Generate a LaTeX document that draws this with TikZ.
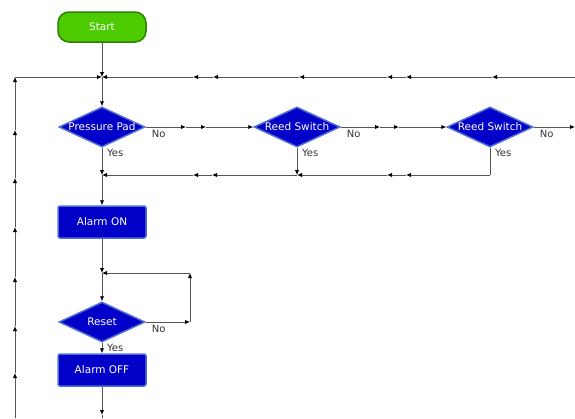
\documentclass[tikz,border=0pt]{standalone}
\usepackage{fontspec}
\setmainfont{DejaVu Sans}
\usetikzlibrary{arrows.meta,positioning,shapes.geometric}
\definecolor{boxfill}{RGB}{0,0,200}
\definecolor{boxedge}{RGB}{80,110,210}
\definecolor{startfill}{RGB}{76,204,0}
\definecolor{startedge}{RGB}{45,130,0}
\definecolor{wirecolor}{RGB}{85,85,85}

\begin{document}
\begin{tikzpicture}[x=1pt,y=-1pt,
  >={Latex[length=5pt,width=4.5pt,color=black]},
  terminal/.style={rectangle,rounded corners=11pt,draw=startedge,fill=startfill,
                   line width=1.5pt,minimum width=88pt,minimum height=30pt,
                   text=white,font=\fontsize{10.5}{12}\selectfont},
  process/.style={rectangle,rounded corners=2pt,draw=boxedge,fill=boxfill,
                  line width=1.5pt,minimum width=88pt,minimum height=32pt,
                  text=white,font=\fontsize{10.5}{12}\selectfont},
  decision/.style={diamond,draw=boxedge,fill=boxfill,line width=1.5pt,
                   minimum width=86pt,minimum height=40pt,inner sep=0pt},
  dtext/.style={text=white,font=\fontsize{10.5}{12}\selectfont,inner sep=0pt},
  wire/.style={draw=wirecolor,line width=0.9pt},
  flow/.style={wire,->},
  answer/.style={font=\fontsize{10}{11}\selectfont,text=black!80,inner sep=0pt}
]
\useasboundingbox (0,0) rectangle (575,418);
% blocks
\node[terminal] (start) at (102,27)  {Start};
\node[decision,label={[dtext]center:Pressure Pad}] (pad)  at (102,127) {};
\node[decision,label={[dtext]center:Reed Switch}]  (reed1) at (297,127) {};
\node[decision,label={[dtext]center:Reed Switch}]  (reed2) at (490,127) {};
\node[process]  (alarmon)  at (102,222) {Alarm ON};
\node[decision,label={[dtext]center:Reset}] (reset) at (102,322) {};
\node[process]  (alarmoff) at (102,370) {Alarm OFF};
% answers
\node[answer,below right=3pt and 6pt of pad.east]   (padno)   {No};
\node[answer,below right=1pt and 5pt of pad.south]  (padyes)  {Yes};
\node[answer,below right=3pt and 6pt of reed1.east] (reed1no) {No};
\node[answer,below right=1pt and 5pt of reed1.south](reed1yes){Yes};
\node[answer,below right=3pt and 6pt of reed2.east] (reed2no) {No};
\node[answer,below right=1pt and 5pt of reed2.south](reed2yes){Yes};
\node[answer,below right=3pt and 6pt of reset.east] (resetno) {No};
\node[answer,below right=1pt and 5pt of reset.south](resetyes){Yes};
% wire points
\coordinate (jtop) at (102,77);
\coordinate (jmid) at (102,175);
\coordinate (jres) at (102,273);
\coordinate (lbot) at (15,418);
\coordinate (lcor) at (15,77);
\foreach \y [count=\i] in {373,326,277,227,178,130} \coordinate (l\i) at (15,\y);
\coordinate (rtop) at (575,77);
\foreach \x [count=\i] in {492,406,387,299,213,193} \coordinate (t\i) at (\x,77);
\coordinate (n1) at (186,127);
\coordinate (n2) at (206,127);
\coordinate (n3) at (380,127);
\coordinate (n4) at (399,127);
\coordinate (rno) at (575,127);
\coordinate (ybot1) at (297,175);
\coordinate (ybot2) at (490,175);
\coordinate (b1) at (406,175);
\coordinate (b2) at (387,175);
\coordinate (b4) at (212,175);
\coordinate (b5) at (193,175);
\coordinate (loopr) at (190,322);
\coordinate (loopt) at (190,273);
\coordinate (oarr) at (102,415);
\coordinate (obot) at (102,418);
% wires
\draw[flow] (start) -- (jtop);
\foreach \a/\b in {lbot/l1,l1/l2,l2/l3,l3/l4,l4/l5,l5/l6,l6/lcor,lcor/jtop}
  \draw[flow] (\a) -- (\b);
\foreach \a/\b in {rtop/t1,t1/t2,t2/t3,t3/t4,t4/t5,t5/t6,t6/jtop}
  \draw[flow] (\a) -- (\b);
\draw[flow] (jtop) -- (pad);
\foreach \a/\b in {pad.east/n1,n1/n2,n2/reed1.west,reed1.east/n3,n3/n4,n4/reed2.west,reed2.east/rno}
  \draw[flow] (\a) -- (\b);
\draw[flow] (pad.south) -- (jmid);
\draw[flow] (reed1.south) -- (ybot1);
\draw[wire] (reed2.south) -- (ybot2);
\foreach \a/\b in {ybot2/b1,b1/b2,b2/ybot1,ybot1/b4,b4/b5,b5/jmid}
  \draw[flow] (\a) -- (\b);
\draw[flow] (jmid) -- (alarmon);
\draw[flow] (alarmon) -- (jres);
\draw[flow] (jres) -- (reset);
\draw[flow] (reset.east) -- (loopr);
\draw[flow] (loopr) -- (loopt);
\draw[flow] (loopt) -- (jres);
\draw[flow] (reset.south) -- (alarmoff.north);
\draw[flow] (alarmoff) -- (oarr);
\draw[wire] (oarr) -- (obot);
\end{tikzpicture}
\end{document}
